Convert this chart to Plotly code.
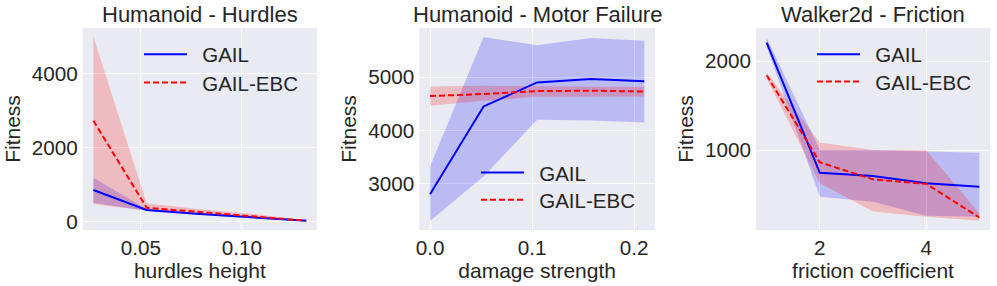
import plotly.graph_objects as go

# ---- data ----
hurdle_x = [0.0264, 0.0528, 0.0792, 0.1056, 0.132]
hurdle_gail = [857, 316, 208, 108, 25]
hurdle_gail_lo = [514, 289, 185, 90, 15]
hurdle_gail_hi = [1189, 345, 235, 130, 35]
hurdle_ebc = [2730, 378, 262, 154, 27]
hurdle_ebc_lo = [470, 300, 215, 120, 15]
hurdle_ebc_hi = [5000, 497, 340, 210, 40]

motor_x = [0.0, 0.0525, 0.105, 0.1575, 0.21]
motor_gail = [2807, 4450, 4900, 4963, 4920]
motor_gail_lo = [2306, 3137, 4200, 4188, 4150]
motor_gail_hi = [3325, 5750, 5594, 5730, 5680]
motor_ebc = [4645, 4683, 4738, 4745, 4730]
motor_ebc_lo = [4463, 4555, 4630, 4638, 4638]
motor_ebc_hi = [4822, 4840, 4830, 4820, 4813]

fric_x = [1, 2, 3, 4, 5]
fric_gail = [2210, 745, 708, 626, 588]
fric_gail_lo = [2170, 475, 419, 262, 251]
fric_gail_hi = [2266, 1000, 1000, 981, 970]
fric_ebc = [1843, 862, 671, 621, 242]
fric_ebc_lo = [1805, 626, 308, 251, 206]
fric_ebc_hi = [1870, 1086, 1000, 1000, 289]

titles = ["Humanoid - Hurdles", "Humanoid - Motor Failure", "Walker2d - Friction"]
xlabels = ["hurdles height", "damage strength", "friction coefficient"]
ylabel = "Fitness"
series_names = ["GAIL", "GAIL-EBC"]

FONT = "Liberation Sans, Arial, sans-serif"
TXT = "#262626"
BG = "#EAEAF2"
W, H = 997, 286
FS = 22      # titles
AFS = 21     # axis labels
TFS = 20.7   # tick labels
LFS = 20.5   # legend

panels = [
    (hurdle_x, hurdle_gail, hurdle_gail_lo, hurdle_gail_hi, hurdle_ebc, hurdle_ebc_lo, hurdle_ebc_hi),
    (motor_x, motor_gail, motor_gail_lo, motor_gail_hi, motor_ebc, motor_ebc_lo, motor_ebc_hi),
    (fric_x, fric_gail, fric_gail_lo, fric_gail_hi, fric_ebc, fric_ebc_lo, fric_ebc_hi),
]

xdom_px = [(82.7, 317.0), (419.3, 655.0), (756.0, 990.0)]
ytop_px, ybot_px = 28.0, 230.0
ydom = [1 - ybot_px / H, 1 - ytop_px / H]

xranges = [[0.0211, 0.1373], [-0.0105, 0.2205], [0.8, 5.2]]
yranges = [[-224, 5235], [2137, 5919], [101, 2374]]
xticks = [[0.05, 0.10], [0.0, 0.1, 0.2], [2, 4]]
xticktext = [["0.05", "0.10"], ["0.0", "0.1", "0.2"], ["2", "4"]]
yticks = [[0, 2000, 4000], [3000, 4000, 5000], [1000, 2000]]

# legend entries (px): left of line symbol, vertical centre of each row
legend_x_px = [139, 476, 812]
legend_y_px = [(54.5, 82.7), (172.7, 200), (54.3, 81.7)]

fig = go.Figure()
for i, (x, g, glo, ghi, e, elo, ehi) in enumerate(panels):
    xa = "x" if i == 0 else f"x{i+1}"
    ya = "y" if i == 0 else f"y{i+1}"
    lg1 = "legend" if i == 0 else f"legend{2*i+1}"
    lg2 = f"legend{2*i+2}"
    fig.add_trace(go.Scatter(x=list(x) + list(x)[::-1], y=list(ghi) + list(glo)[::-1],
                             fill="toself", fillcolor="rgba(0,0,255,0.2)", line=dict(width=0),
                             mode="lines", hoverinfo="skip", showlegend=False, xaxis=xa, yaxis=ya))
    fig.add_trace(go.Scatter(x=list(x) + list(x)[::-1], y=list(ehi) + list(elo)[::-1],
                             fill="toself", fillcolor="rgba(255,0,0,0.2)", line=dict(width=0),
                             mode="lines", hoverinfo="skip", showlegend=False, xaxis=xa, yaxis=ya))
    fig.add_trace(go.Scatter(x=x, y=g, mode="lines", name="\u2002" + series_names[0],
                             line=dict(color="blue", width=2), xaxis=xa, yaxis=ya, legend=lg1))
    fig.add_trace(go.Scatter(x=x, y=e, mode="lines", name="\u2002" + series_names[1],
                             line=dict(color="red", width=2, dash="6px,3px"), xaxis=xa, yaxis=ya, legend=lg2))

layout = dict(
    width=W, height=H, margin=dict(l=0, r=0, t=0, b=0),
    paper_bgcolor="white", plot_bgcolor=BG,
    font=dict(family=FONT, size=FS, color=TXT),
    annotations=[],
)
for i in range(3):
    sx = "" if i == 0 else str(i + 1)
    x0, x1 = xdom_px[i]
    layout[f"xaxis{sx}"] = dict(
        domain=[x0 / W, x1 / W], range=xranges[i], tickvals=xticks[i], ticktext=xticktext[i],
        showgrid=True, gridcolor="white", gridwidth=1.2, zeroline=False, showline=False,
        ticks="", tickfont=dict(size=TFS, color=TXT), anchor=f"y{sx}", automargin=False,
        ticklabelstandoff=3,
        title=dict(text=xlabels[i], font=dict(size=AFS, color=TXT), standoff=0),
    )
    layout[f"yaxis{sx}"] = dict(
        domain=ydom, range=yranges[i], tickvals=yticks[i],
        showgrid=True, gridcolor="white", gridwidth=1.2, zeroline=False, showline=False,
        ticks="", tickfont=dict(size=TFS, color=TXT), anchor=f"x{sx}", automargin=False,
        ticklabelstandoff=4,
        title=dict(text=ylabel, font=dict(size=AFS, color=TXT), standoff=5),
    )
    layout["annotations"].append(dict(
        text=titles[i], x=(x0 + x1) / 2 / W, y=1 - 14.5 / H, xref="paper", yref="paper",
        xanchor="center", yanchor="middle", showarrow=False, font=dict(size=FS, color=TXT)))
    for j in range(2):
        k = 2 * i + j + 1
        lname = "legend" if k == 1 else f"legend{k}"
        layout[lname] = dict(x=legend_x_px[i] / W, y=1 - legend_y_px[i][j] / H,
                             xanchor="left", yanchor="middle",
                             bgcolor="rgba(0,0,0,0)", borderwidth=0,
                             font=dict(size=LFS, color=TXT), itemwidth=43, tracegroupgap=0)

fig.update_layout(**layout)
fig.write_html("out.html", config={"displayModeBar": False},
               post_script="document.body.style.margin='0';document.body.style.overflow='hidden';")
